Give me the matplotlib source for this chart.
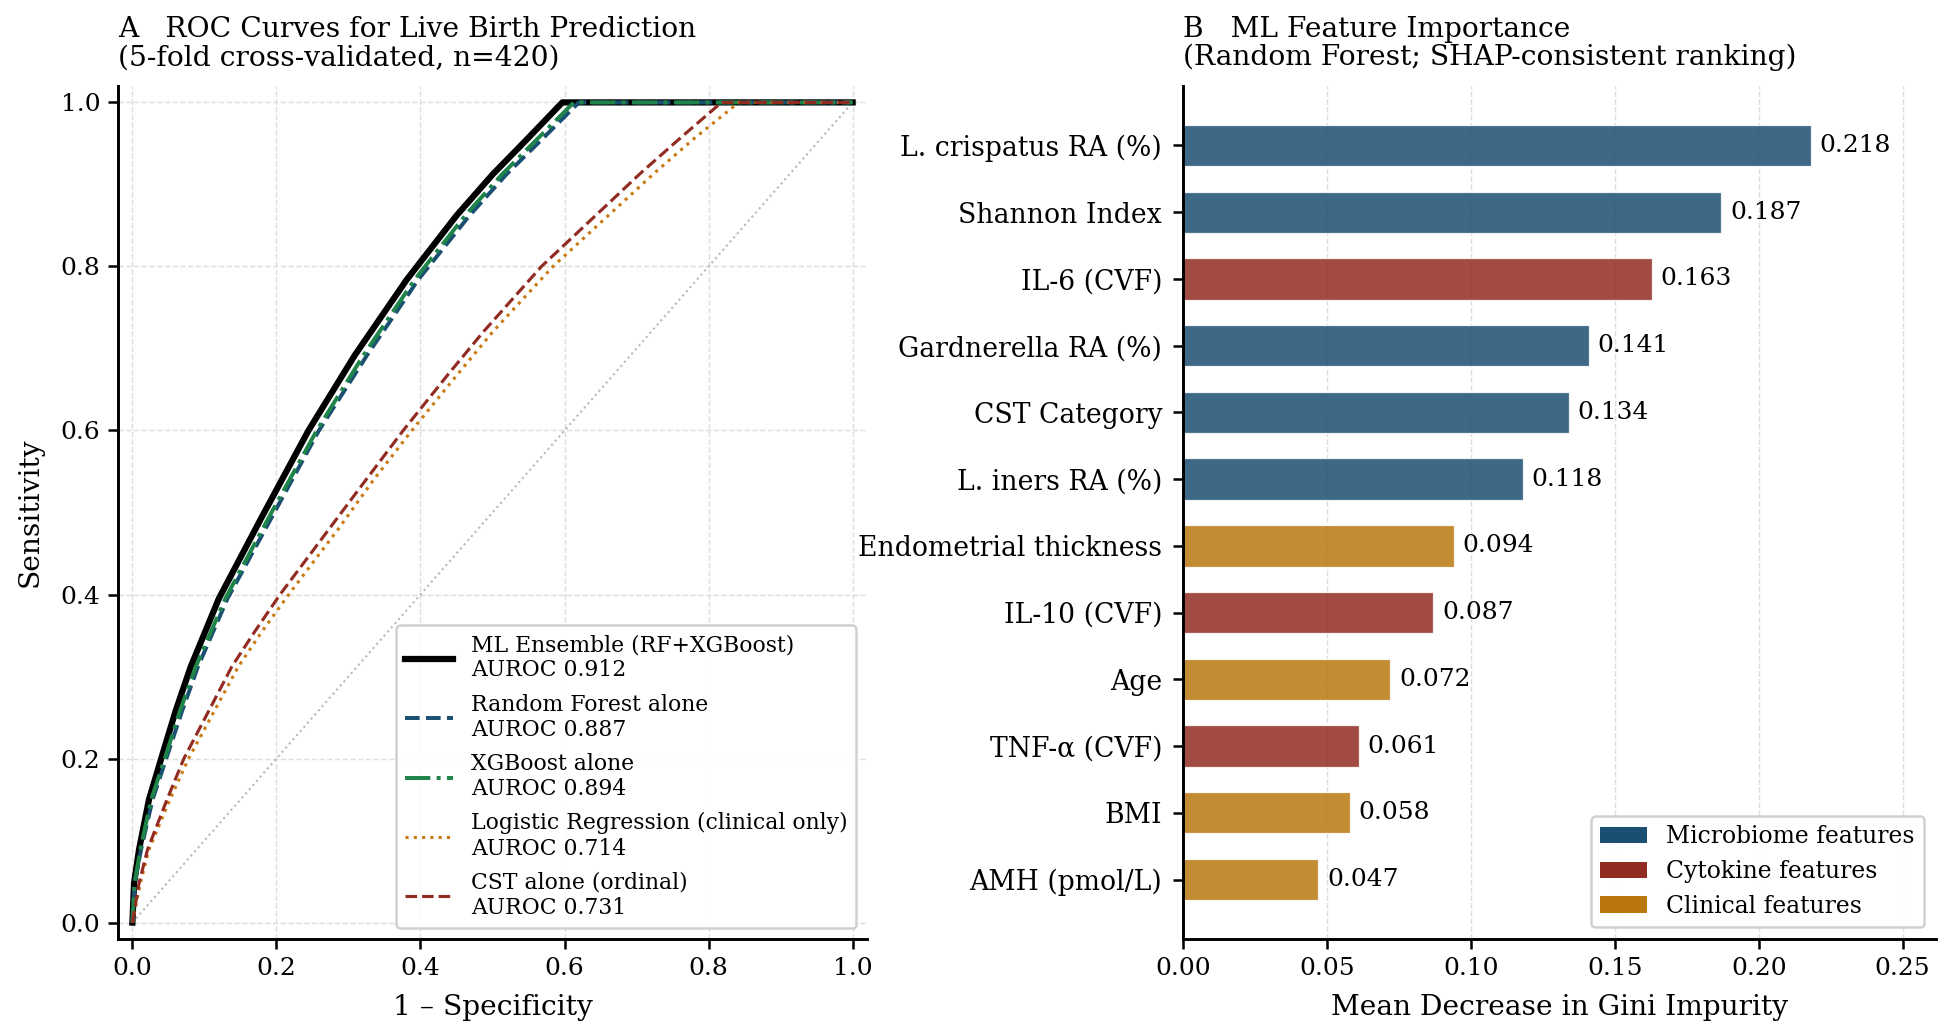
import matplotlib
matplotlib.use("Agg")
import matplotlib.pyplot as plt
from matplotlib.patches import Patch

plt.rcParams['font.family'] = ['DejaVu Serif']

# ---------------- Data: ROC curves ----------------
ens_fpr = [0, 0.0023, 0.0092, 0.023, 0.04, 0.06, 0.081, 0.12, 0.18, 0.2445, 0.309, 0.381, 0.45, 0.5, 0.55, 0.597, 1.0]
ens_tpr = [0, 0.048, 0.089, 0.15, 0.2, 0.258, 0.312, 0.395, 0.495, 0.6, 0.692, 0.784, 0.862, 0.912, 0.957, 1.0, 1.0]

rf_fpr = [0, 0.003, 0.012, 0.028, 0.047, 0.069, 0.091, 0.132, 0.194, 0.259, 0.326, 0.397, 0.468, 0.519, 0.571, 0.62, 1.0]
rf_tpr = [0, 0.048, 0.089, 0.15, 0.2, 0.258, 0.312, 0.395, 0.495, 0.6, 0.692, 0.784, 0.862, 0.912, 0.957, 1.0, 1.0]

xgb_fpr = [0, 0.003, 0.011, 0.026, 0.045, 0.066, 0.088, 0.129, 0.19, 0.256, 0.321, 0.392, 0.462, 0.513, 0.564, 0.613, 1.0]
xgb_tpr = [0, 0.048, 0.089, 0.15, 0.2, 0.258, 0.312, 0.395, 0.495, 0.6, 0.692, 0.784, 0.862, 0.912, 0.957, 1.0, 1.0]

lr_fpr = [0, 0.011, 0.023, 0.052, 0.078, 0.147, 0.18, 0.217, 0.286, 0.335, 0.388, 0.438, 0.5, 0.584, 0.725, 0.78, 0.842, 1.0]
lr_tpr = [0, 0.048, 0.089, 0.15, 0.2, 0.312, 0.355, 0.4, 0.48, 0.54, 0.6, 0.654, 0.72, 0.8, 0.914, 0.956, 1.0, 1.0]

cst_fpr = [0, 0.0092, 0.021, 0.048, 0.0715, 0.138, 0.17, 0.205, 0.286, 0.321, 0.376, 0.438, 0.487, 0.568, 0.706, 0.76, 0.818, 1.0]
cst_tpr = [0, 0.048, 0.089, 0.15, 0.2, 0.312, 0.355, 0.4, 0.495, 0.536, 0.6, 0.668, 0.72, 0.8, 0.914, 0.956, 1.0, 1.0]

model_names = ["ML Ensemble (RF+XGBoost)", "Random Forest alone", "XGBoost alone",
               "Logistic Regression (clinical only)", "CST alone (ordinal)"]
model_auroc = [0.912, 0.887, 0.894, 0.714, 0.731]

# ---------------- Data: feature importance ----------------
features = ["L. crispatus RA (%)", "Shannon Index", "IL-6 (CVF)", "Gardnerella RA (%)",
            "CST Category", "L. iners RA (%)", "Endometrial thickness", "IL-10 (CVF)",
            "Age", "TNF-α (CVF)", "BMI", "AMH (pmol/L)"]
importance = [0.218, 0.187, 0.163, 0.141, 0.134, 0.118, 0.094, 0.087, 0.072, 0.061, 0.058, 0.047]
feature_group = ["Microbiome", "Microbiome", "Cytokine", "Microbiome", "Microbiome", "Microbiome",
                 "Clinical", "Cytokine", "Clinical", "Cytokine", "Clinical", "Clinical"]
group_labels = ["Microbiome features", "Cytokine features", "Clinical features"]

group_colors = {"Microbiome": "#1B4F72", "Cytokine": "#922B21", "Clinical": "#B9770E"}

fig = plt.figure(figsize=(13, 1030 / 150), dpi=150)
W, H = 1950, 1030
axA = fig.add_axes([118 / W, (H - 939) / H, (867 - 118) / W, (939 - 86) / H])
axB = fig.add_axes([1183 / W, (H - 939) / H, (1936 - 1183) / W, (939 - 86) / H])

# ---------------- Panel A ----------------
styles = [
    dict(color="black", lw=3.0, ls="-"),
    dict(color="#1B4F72", lw=1.9, ls="--"),
    dict(color="#1E8449", lw=1.9, ls="-."),
    dict(color="#CA7A12", lw=1.5, ls=":"),
    dict(color="#922B21", lw=1.5, ls="--"),
]
curves = [(ens_fpr, ens_tpr), (rf_fpr, rf_tpr), (xgb_fpr, xgb_tpr), (lr_fpr, lr_tpr), (cst_fpr, cst_tpr)]
axA.plot([0, 1], [0, 1], ls=":", color="#b8b8b8", lw=1.0, zorder=1)
for (fx, ty), st, name, auc in zip(curves, styles, model_names, model_auroc):
    axA.plot(fx, ty, label=f"{name}\nAUROC {auc:.3f}", zorder=2, **st)

axA.set_xlim(-0.02, 1.02)
axA.set_ylim(-0.02, 1.02)
axA.grid(True, ls="--", color="#dddddd", lw=0.7)
axA.set_axisbelow(True)
axA.spines["top"].set_visible(False)
axA.spines["right"].set_visible(False)
for s in ("left", "bottom"):
    axA.spines[s].set_linewidth(1.4)
axA.tick_params(labelsize=12, width=1.2, length=5)
axA.set_xlabel("1 – Specificity", fontsize=13.5, labelpad=7)
axA.set_ylabel("Sensitivity", fontsize=13.5, labelpad=8)
axA.set_title("A   ROC Curves for Live Birth Prediction\n(5-fold cross-validated, n=420)",
              loc="left", fontsize=13.5, ha="left", linespacing=1.05, pad=10)
legA = axA.legend(loc="lower right", fontsize=10.5, frameon=True, framealpha=0.9,
                  edgecolor="#cccccc", handlelength=2.2, labelspacing=0.55)
legA.get_frame().set_linewidth(1.2)

# ---------------- Panel B ----------------
ypos = list(range(len(features)))
bar_colors = [group_colors[g] for g in feature_group]
axB.barh(ypos, importance, height=0.62, color=bar_colors, alpha=0.85,
         edgecolor="white", linewidth=0.6, zorder=2)
axB.invert_yaxis()
axB.set_yticks(ypos)
axB.set_yticklabels(features, fontsize=12.75)
for y, v in zip(ypos, importance):
    axB.text(v + 0.003, y, f"{v:.3f}", va="center", ha="left", fontsize=12)
axB.set_xlim(0, max(importance) * 1.2)
axB.set_xticks([0, 0.05, 0.10, 0.15, 0.20, 0.25])
axB.set_xticklabels(["0.00", "0.05", "0.10", "0.15", "0.20", "0.25"])
axB.grid(True, axis="x", ls="--", color="#dddddd", lw=0.7)
axB.set_axisbelow(True)
axB.spines["top"].set_visible(False)
axB.spines["right"].set_visible(False)
for s in ("left", "bottom"):
    axB.spines[s].set_linewidth(1.4)
axB.tick_params(axis="x", labelsize=12, width=1.2, length=5)
axB.tick_params(axis="y", width=1.2, length=5, pad=5)
axB.set_xlabel("Mean Decrease in Gini Impurity", fontsize=13.5, labelpad=7)
axB.set_title("B   ML Feature Importance\n(Random Forest; SHAP-consistent ranking)",
              loc="left", fontsize=13.5, ha="left", linespacing=1.05, pad=10)
handles = [Patch(facecolor=group_colors[g], label=l) for g, l in zip(["Microbiome", "Cytokine", "Clinical"], group_labels)]
legB = axB.legend(handles=handles, loc="lower right", fontsize=11.3, frameon=True, framealpha=0.9,
                  edgecolor="#cccccc")
legB.get_frame().set_linewidth(1.2)

fig.savefig("out.png", dpi=150)
